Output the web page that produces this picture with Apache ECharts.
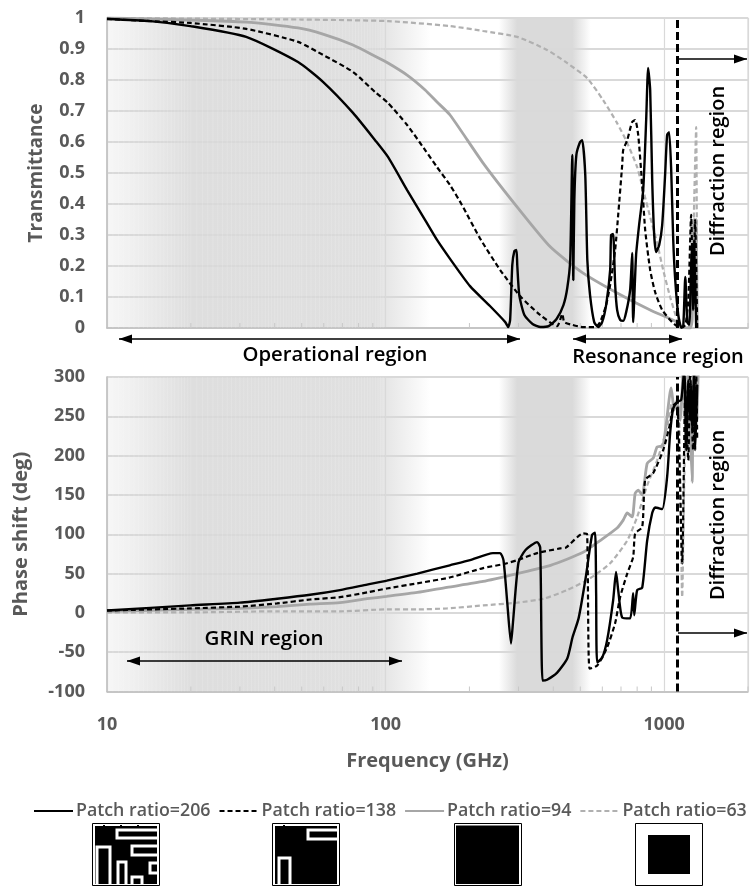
<!DOCTYPE html>
<html><head><meta charset="utf-8">
<style>html,body{margin:0;padding:0;background:#fff}#c{width:750px;height:886px}</style>
<script src="https://cdn.jsdelivr.net/npm/echarts@6/dist/echarts.min.js"></script>
</head><body><div id="c"></div>
<script>
const xTickLabels=[10,100,1000];
const minorTicks=[20,30,40,50,60,70,80,90,200,300,400,500,600,700,800,900,2000];
const seriesNames=['Patch ratio=206','Patch ratio=138','Patch ratio=94','Patch ratio=63'];
const diffractionLimit=1118;

const t206F=[10,14.3,19.9,31.6,48.5,59.6,76.4,91.7,102,119.5,138.7,153,170.4,201,237,269,275.6,280,285,290,295,297,302,315,337,360,385,411,435,449,460,468,472,476,484,499,508,521,530,542,561,580,599,619,640,645,656,667,678,695,713,731,755,768,774,793,813,841,862,876,891,906,921,936,960,984,1008,1025,1042,1060,1078,1096,1124,1152,1171,1191,1211,1231,1250,1261,1271,1282,1303];
const t206V=[.997,.99,.974,.939,.858,.794,.694,.606,.552,.445,.348,.284,.223,.135,.071,.019,.003,.026,.203,.248,.252,.203,.106,.042,.013,.003,.006,.029,.074,.129,.219,.558,.155,.413,.558,.6,.606,.494,.219,.106,.019,.003,.019,.074,.187,.3,.303,.139,.058,.026,.023,.052,.123,.242,.019,.235,.332,.445,.671,.839,.768,.477,.3,.245,.268,.332,.494,.623,.632,.51,.284,.155,.042,.003,.006,.165,.019,.01,.203,.268,.058,.284,0];

const t138F=[10,14.3,19.9,31.6,48.5,59.6,76.4,91.7,102,119.5,138.7,153,170.4,188,218,258,304,359,413,431,438,468,512,565,589,619,640,667,684,707,713,737,768,787,807,834,855,891,928,984,1069,1142,1191,1221,1250,1271,1292,1314];
const t138V=[.997,.99,.984,.965,.923,.881,.826,.761,.726,.655,.574,.519,.461,.397,.29,.187,.103,.042,.006,.045,.019,.01,.003,.003,.019,.074,.139,.252,.365,.526,.574,.606,.665,.671,.623,.461,.316,.187,.116,.058,.019,0,.01,.09,.365,.09,.348,0];

const t94F=[10,31.6,48.5,59.6,76.4,91.7,102,119.5,138.7,153,170.4,224,297,391,512,678,891,1113,1142,1240,1261,1271,1282,1292,1303,1314];
const t94V=[1,.987,.968,.948,.913,.877,.855,.816,.768,.729,.687,.532,.39,.261,.177,.113,.058,.019,.003,0,.026,.3,.35,.1,.35,0];

const t63F=[10,50,102,170,224,297,380,448,529,604,678,737,800,841,891,944,992,1051,1113,1142,1240,1261,1282,1303,1314];
const t63V=[1,.995,.99,.974,.958,.939,.897,.855,.806,.735,.661,.597,.519,.445,.358,.274,.187,.1,.026,.006,.003,.09,.413,.648,0];

const p206F=[10,19.9,30,40.8,53.6,68.6,85.8,101,130,170,201,243,258,265,273,282,287,300,318,350,359,366,380,413,449,469,493,523,551,565,570,575,599,624,656,672,684,707,755,774,781,800,834,869,906,928,984,1025,1051,1078,1113,1152,1181,1201,1221,1240,1250,1261,1282,1292,1303,1314];
const p206V=[3,9.5,13,18,23,29,36,41,50,60.5,67,76,76,67,16,-39,-10,64,80,90,83,-86,-85,-76,-58,-31,-7,45,99,102,25,-63,-57,-35,16,52,29,-6,-7,25,-3,29,32,92,127,134,132,173,229,260,268,271,311,207,296,245,290,232,309,207,245,290];

const p138F=[10,19.9,30,40.8,53.6,68.6,85.8,101,130,170,224,265,297,350,423,444,512,529,540,575,624,667,695,737,774,787,834,855,914,992,1051,1078,1113,1161,1191,1221,1240,1271,1303,1314];
const p138V=[3,5.7,8,12,17,20,26,31,37.6,45,57,62,67,76,82,83,101,100,-71,-67,-44,-13,20,50,71,101,109,169,178,207,241,264,267,63,283,194,306,207,306,220];

const p94F=[10,19.9,30,40.8,53.6,68.6,85.8,101,130,166,224,297,391,512,589,678,713,737,768,787,807,834,869,914,944,992,1060,1087,1113,1142,1171,1201,1221,1240,1261,1271,1282,1303,1314,1325];
const p94V=[2,4.4,5.7,8,11,13,18,21,26,32.5,40,50,60.5,77,92,108,118,127,122,152,156,150,190,197,211,213,286,258,271,245,309,207,311,232,166,311,220,311,245,309];

const p63F=[10,19.9,40.8,68.6,101,130,166,224,297,369,449,542,640,737,800,869,944,1025,1069,1113,1133,1161,1181,1211,1240,1261,1292,1314];
const p63V=[.6,.6,2,2,4.4,4.4,5.7,9.5,13,18,29,44,63,92,122,162,194,236,267,267,249,20,169,309,220,309,232,303];

const GRAY='#595959', GRID='#d9d9d9', FONT='"Open Sans"';
const zip=(a,b)=>a.map((v,i)=>[v,b[i]]);
const band1=new echarts.graphic.LinearGradient(0,0,1,0,[{offset:0,color:'#f7f7f7'},{offset:.26,color:'#dedede'},{offset:.83,color:'#e0e0e0'},{offset:1,color:'#ffffff'}]);
const band2=new echarts.graphic.LinearGradient(0,0,1,0,[{offset:0,color:'#ffffff'},{offset:.08,color:'#f0f0f0'},{offset:.2,color:'#dadada'},{offset:.8,color:'#dadada'},{offset:.92,color:'#f0f0f0'},{offset:1,color:'#ffffff'}]);
const styles=[
 {color:'#000',width:2.4,type:'solid'},
 {color:'#000',width:2.2,type:[5,3]},
 {color:'#a6a6a6',width:2.8,type:'solid'},
 {color:'#b0b0b0',width:2.2,type:[5,3]}
];
function line(i,f,v,ax,first){
 const s={name:seriesNames[i],type:'line',xAxisIndex:ax,yAxisIndex:ax,data:zip(f,v),showSymbol:false,symbol:'none',
  smooth:.2,lineStyle:styles[i],itemStyle:{color:styles[i].color},z:6-i,clip:true,silent:true};
 if(first){
  s.markArea={silent:true,z:-1,data:[
   [{xAxis:10,itemStyle:{color:band1}},{xAxis:145}],
   [{xAxis:255,itemStyle:{color:band2}},{xAxis:545}]]};
  s.markLine={silent:true,symbol:'none',label:{show:false},z:8,
   lineStyle:{color:'#000',width:3,type:[8,4]},data:[{xAxis:diffractionLimit}]};
 }
 return s;
}
function ticks(ax,yMin){
 return {type:'custom',xAxisIndex:ax,yAxisIndex:ax,silent:true,z:2,data:minorTicks.map(v=>[v,yMin]),
  renderItem:(p,api)=>{const c=api.coord([api.value(0),api.value(1)]);
   return {type:'line',shape:{x1:c[0],y1:c[1],x2:c[0],y2:c[1]-5},style:{stroke:'#c8c8c8',lineWidth:1}};}};
}
function texture(ax,yMin,yMax){
 const vals=[];for(let v=10.5;v<100;v+=v<20?.5:v<50?1:2)vals.push(v);
 return {type:'custom',xAxisIndex:ax,yAxisIndex:ax,silent:true,z:1,data:vals.map(v=>[v,yMin,yMax]),
  renderItem:(p,api)=>{const a=api.coord([api.value(0),api.value(1)]),b=api.coord([api.value(0),api.value(2)]);
   return {type:'line',shape:{x1:a[0],y1:a[1],x2:a[0],y2:b[1]},style:{stroke:'rgba(255,255,255,.16)',lineWidth:1}};}};
}
function xAx(idx,labels){
 return {type:'log',logBase:10,gridIndex:idx,min:10,max:2000,
  axisLine:{show:true,onZero:false,lineStyle:{color:'#bfbfbf',width:1.5}},axisTick:{show:false},
  splitLine:{show:true,lineStyle:{color:GRID,width:1.2}},minorTick:{show:false},
  axisLabel:{show:labels,margin:24,color:GRAY,fontFamily:FONT,fontWeight:700,fontSize:18,showMinLabel:true,showMaxLabel:false,
   formatter:v=>xTickLabels.includes(Math.round(v))?String(Math.round(v)):''},
  name:labels?'Frequency (GHz)':'',nameLocation:'middle',nameGap:60,
  nameTextStyle:{color:GRAY,fontFamily:FONT,fontWeight:700,fontSize:20}};
}
function yAx(idx,min,max,iv,name,gap,nsize){
 return {type:'value',gridIndex:idx,min,max,interval:iv,
  axisLine:{show:true,onZero:false,lineStyle:{color:'#bfbfbf',width:1.5}},axisTick:{show:false},
  splitLine:{show:true,lineStyle:{color:GRID,width:2}},
  axisLabel:{margin:22,color:GRAY,fontFamily:FONT,fontWeight:700,fontSize:18,formatter:v=>String(+v.toFixed(1))},
  name,nameLocation:'middle',nameGap:gap,nameTextStyle:{color:GRAY,fontFamily:FONT,fontWeight:700,fontSize:nsize}};
}
function arrow(x1,x2,y,both){
 const h=[{type:'polyline',z:100,shape:{points:[[x1,y],[x2,y]]},style:{stroke:'#000',lineWidth:1.6,fill:null}},
  {type:'polygon',z:100,shape:{points:[[x2,y],[x2-13,y-4.5],[x2-13,y+4.5]]},style:{fill:'#000'}}];
 if(both)h.push({type:'polygon',z:100,shape:{points:[[x1,y],[x1+13,y-4.5],[x1+13,y+4.5]]},style:{fill:'#000'}});
 return h;
}
function label(t,x,y,size,rot){
 return {type:'text',z:100,x,y,rotation:rot||0,style:{text:t,fontFamily:FONT,fontWeight:600,fontSize:size,fill:'#000',textAlign:'center',textVerticalAlign:'middle'}};
}
function frame(x){return [
 {type:'rect',shape:{x:x+.5,y:823.5,width:67,height:62},style:{fill:'#fff',stroke:'#000',lineWidth:1}}];}
function wpath(pts){return {type:'polyline',shape:{points:pts},style:{stroke:'#fff',lineWidth:3,fill:null}};}
function bl(x,y,w,h){return {type:'rect',shape:{x,y,width:w,height:h},style:{fill:'#000'}};}
const gfx=[
 ...arrow(119,520,339,true),...arrow(573,682,339,true),...arrow(127,402,661,true),
 ...arrow(678,747,59,false),...arrow(678,747,633,false),
 label('Operational region',335,355,20.3),label('Resonance region',658,357,20),label('GRIN region',264,639,20.5),
 label('Diffraction region',718,171,20,Math.PI/2),label('Diffraction region',718,515,20,Math.PI/2),
 ...frame(92),bl(95,826,62,58),
 wpath([[158,830],[117,830],[117,838],[158,838]]),wpath([[158,846],[132,846],[132,855],[158,855]]),
 wpath([[97,884],[97,847],[110,847],[110,884]]),wpath([[118,884],[118,862],[126,862],[126,884]]),
 wpath([[132,884],[132,877],[142,877],[142,884]]),wpath([[158,863],[150,863],[150,873],[158,873]]),
 bl(103,825,2,2),bl(120,825,2,2),bl(137,825,2,2),
 ...frame(272),bl(275,826,62,58),
 wpath([[338,830],[308,830],[308,839],[338,839]]),wpath([[279,884],[279,858],[290,858],[290,884]]),
 bl(283,825,2,2),
 ...frame(454),bl(456,825.5,63,58.5),
 ...frame(635),bl(648,835,42,39)
];
const chart=echarts.init(document.getElementById('c'),null,{renderer:'canvas'});
chart.setOption({
 animation:false,backgroundColor:'#fff',
 legend:{data:seriesNames,left:33,top:802,width:1000,itemWidth:39,itemHeight:2,itemGap:8,selectedMode:false,padding:0,
  textStyle:{color:GRAY,fontFamily:FONT,fontWeight:600,fontSize:17.8,padding:[0,0,0,-2]}},
 grid:[
  {left:107,width:641,top:18,height:310,show:true,borderColor:GRID,borderWidth:1.2,backgroundColor:'transparent'},
  {left:107,width:641,top:377,height:314.5,show:true,borderColor:GRID,borderWidth:1.2,backgroundColor:'transparent'}
 ],
 xAxis:[xAx(0,false),xAx(1,true)],
 yAxis:[yAx(0,0,1,.1,'Transmittance',61,19),yAx(1,-100,300,50,'Phase shift (deg)',76,20)],
 series:[
  texture(0,0,1),texture(1,-100,300),ticks(0,0),ticks(1,-100),
  line(3,t63F,t63V,0,false),line(2,t94F,t94V,0,false),line(1,t138F,t138V,0,false),line(0,t206F,t206V,0,true),
  line(3,p63F,p63V,1,false),line(2,p94F,p94V,1,false),line(1,p138F,p138V,1,false),line(0,p206F,p206V,1,true)
 ],
 graphic:{elements:gfx}
});
</script></body></html>
